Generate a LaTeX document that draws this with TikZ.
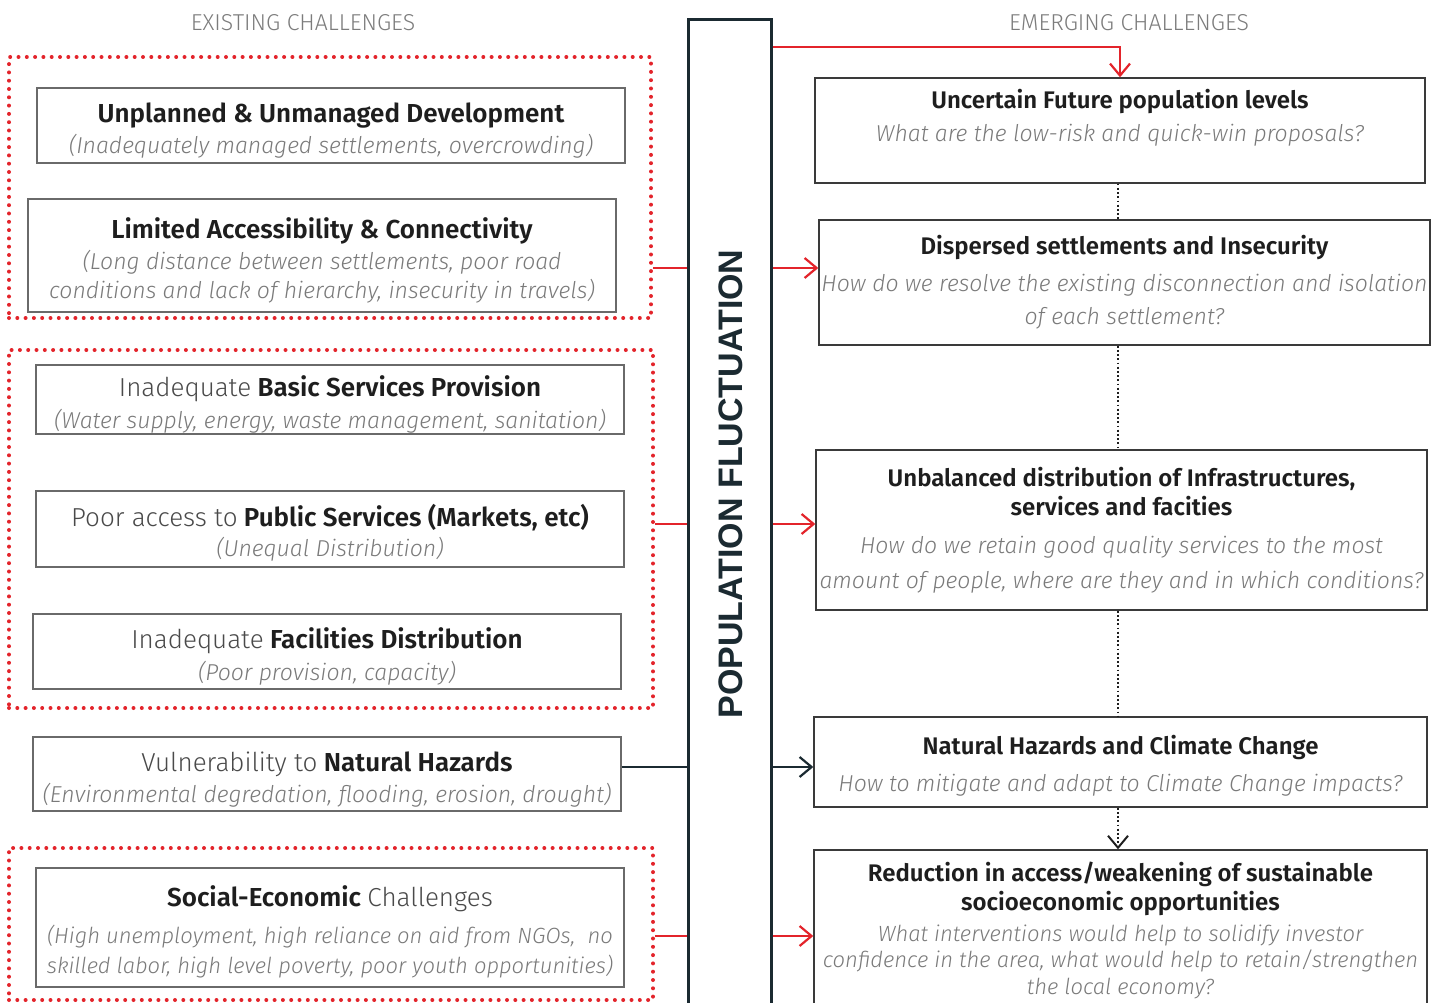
\documentclass[tikz,border=0pt]{standalone}
\usepackage{fontspec}
\setmainfont{Fira Sans}[UprightFont={* Light},ItalicFont={* Light Italic},BoldFont={* SemiBold},BoldItalicFont={* SemiBold Italic}]
\newfontfamily\barfont{Liberation Sans}
\usepackage{xcolor}
\usepackage{tikz}
\usetikzlibrary{arrows.meta,positioning}
\definecolor{linkred}{HTML}{E3242B}
\definecolor{boxgray}{HTML}{6A6A6A}
\definecolor{boxdark}{HTML}{3A3A3A}
\definecolor{barink}{HTML}{1B2A31}
\definecolor{titleink}{HTML}{1E1E1E}
\definecolor{subink}{HTML}{7A7A7A}
\definecolor{lightink}{HTML}{4A4A4A}
\definecolor{hdrink}{HTML}{7C7C7C}
\newcommand\boxttl{\fontsize{26}{29}\selectfont\bfseries\color{titleink}\rule{0pt}{30pt}}
\newcommand\rboxttl{\fontsize{24}{29}\selectfont\bfseries\color{titleink}}
\newcommand\boxsub{\fontsize{23}{29}\selectfont\itshape\color{subink}}
\newcommand\smallsub{\fontsize{22}{29}\selectfont\itshape\color{subink}}
\newcommand\boxlight{\mdseries\color{lightink}}

\begin{document}
\begin{tikzpicture}
    [%%%%%%%%%%%%%%%%%%%%%%%%%%%%%%
        x=1pt, y=-1pt,
        lbox/.style={draw=boxgray, line width=1.4pt, fill=white, align=center, inner sep=0pt,
                     font=\fontsize{23}{29}\selectfont},
        rbox/.style={draw=boxdark, line width=1.4pt, fill=white, align=center, inner sep=0pt,
                     font=\fontsize{23}{29}\selectfont},
        grpframe/.style={draw=linkred, line width=4pt, line cap=round, dash pattern=on 0pt off 8.3pt, inner sep=0pt},
        hdr/.style={font=\fontsize{23}{23}\selectfont, text=hdrink},
        redlink/.style={draw=linkred, line width=2pt},
        redarrow/.style={redlink, -{Straight Barb[length=12pt,width=20pt,line width=2.2pt]}},
        blklink/.style={draw=barink, line width=2pt},
        blkarrow/.style={blklink, -{Straight Barb[length=12pt,width=20pt,line width=2.2pt]}},
        dotlink/.style={draw=titleink, line width=1.8pt, dash pattern=on 1.8pt off 2.4pt},
    ]%%%%%%%%%%%%%%%%%%%%%%%%%%%%%%

\clip (0,0) rectangle (1439,1003);

% headers
\node[hdr] (exhdr) at (303,23) {EXISTING CHALLENGES};
\node[hdr] (emhdr) at (1129,23) {EMERGING CHALLENGES};

% red dotted groups
\node[grpframe, minimum width=642pt, minimum height=261pt] (grp1) at (330,187.5) {};
\node[grpframe, minimum width=644pt, minimum height=358pt] (grp2) at (331,529) {};
\node[grpframe, minimum width=644pt, minimum height=152pt] (grp3) at (331,924) {};

% existing challenges
\node[lbox, minimum width=588pt, minimum height=75pt] (unplanned) at (331,125.5)
  {\boxttl Unplanned \& Unmanaged Development\\[2pt]
   \boxsub (Inadequately managed settlements, overcrowding)};
\node[lbox, minimum width=588pt, minimum height=113pt] (access) at (322,255.5)
  {\boxttl Limited Accessibility \& Connectivity\\[2pt]
   \boxsub (Long distance between settlements, poor road\\
   \boxsub conditions and lack of hierarchy, insecurity in travels)};
\node[lbox, minimum width=588pt, minimum height=69pt] (basic) at (330,399.5)
  {\boxttl {\boxlight Inadequate} Basic Services Provision\\[3pt]
   \boxsub (Water supply, energy, waste management, sanitation)};
\node[lbox, minimum width=588pt, minimum height=76pt] (public) at (330,529)
  {\boxttl {\boxlight Poor access to} Public Services (Markets, etc)\\[1pt]
   \boxsub (Unequal Distribution)};
\node[lbox, minimum width=588pt, minimum height=75pt] (facility) at (327,651.5)
  {\boxttl {\boxlight Inadequate} Facilities Distribution\\[3pt]
   \boxsub (Poor provision, capacity)};
\node[lbox, minimum width=588pt, minimum height=74pt] (hazard) at (327,774)
  {\boxttl {\boxlight Vulnerability to} Natural Hazards\\[2pt]
   \boxsub (Environmental degredation, flooding, erosion, drought)};
\node[lbox, minimum width=588pt, minimum height=119pt] (socio) at (330,927.5)
  {\boxttl Social-Economic {\boxlight Challenges}\\[8pt]
   \smallsub (High unemployment, high reliance on aid from NGOs,~ no\\[1pt]
   \smallsub skilled labor, high level poverty, poor youth opportunities)};

% central bar
\node[draw=barink, line width=3pt, fill=white, minimum width=83pt, minimum height=1000pt, inner sep=0pt] (bar) at (729.5,520) {};
\node[rotate=90, font=\barfont\bfseries\fontsize{34}{34}\selectfont, text=barink] (poptxt) at (731,484) {POPULATION FLUCTUATION};

% emerging challenges
\node[rbox, minimum width=610pt, minimum height=105pt] (uncertain) at (1120,130.5)
  {\rboxttl Uncertain Future population levels\\[4pt]
   \boxsub What are the low-risk and quick-win proposals?\\[2pt]
   \boxsub ~};
\node[rbox, minimum width=611pt, minimum height=125pt] (dispersed) at (1124.5,282.5)
  {\rboxttl Dispersed settlements and Insecurity\\[8pt]
   \boxsub How do we resolve the existing disconnection and isolation\\[4pt]
   \boxsub of each settlement?};
\node[rbox, minimum width=611pt, minimum height=160pt] (unbalanced) at (1121.5,530)
  {\rboxttl Unbalanced distribution of Infrastructures,\\
   \rboxttl services and facities\\[9pt]
   \boxsub How do we retain good quality services to the most\\[6pt]
   \boxsub amount of people, where are they and in which conditions?};
\node[rbox, minimum width=613pt, minimum height=90pt] (climate) at (1120.5,762)
  {\rboxttl\rule{0pt}{27pt}Natural Hazards and Climate Change\\[8pt]
   \boxsub How to mitigate and adapt to Climate Change impacts?};
\node[rbox, minimum width=613pt, minimum height=160pt] (reduction) at (1120.5,930)
  {\rboxttl Reduction in access/weakening of sustainable\\
   \rboxttl socioeconomic opportunities\\[2pt]
   \smallsub What interventions would help to solidify investor\\[-3pt]
   \smallsub confidence in the area, what would help to retain/strengthen\\[-2pt]
   \smallsub the local economy?};

% levels of the links
\coordinate (top) at (0,47);
\coordinate (lvla) at (0,268);
\coordinate (lvlb) at (0,524);
\coordinate (lvlc) at (0,767);
\coordinate (lvld) at (0,936);
\coordinate (xdot) at (1118,0);

\draw[redarrow] (bar.east |- top) -| (uncertain.north);

\foreach \g/\r/\l in {grp1/dispersed/lvla, grp2/unbalanced/lvlb, grp3/reduction/lvld}{
	\draw[redlink] (\g.east |- \l) -- (bar.west |- \l);
	\draw[redarrow] (bar.east |- \l) -- (\r.west |- \l);
}
\draw[blklink] (hazard.east |- lvlc) -- (bar.west |- lvlc);
\draw[blkarrow] (bar.east |- lvlc) -- (climate.west |- lvlc);

\foreach \a/\b in {uncertain/dispersed, dispersed/unbalanced, unbalanced/climate}{
	\draw[dotlink] (\a.south -| xdot) -- (\b.north -| xdot);
}
\draw[dotlink, -{Straight Barb[length=12pt,width=20pt,line width=2pt]}] (climate.south -| xdot) -- (reduction.north -| xdot);

\end{tikzpicture}
\end{document}
